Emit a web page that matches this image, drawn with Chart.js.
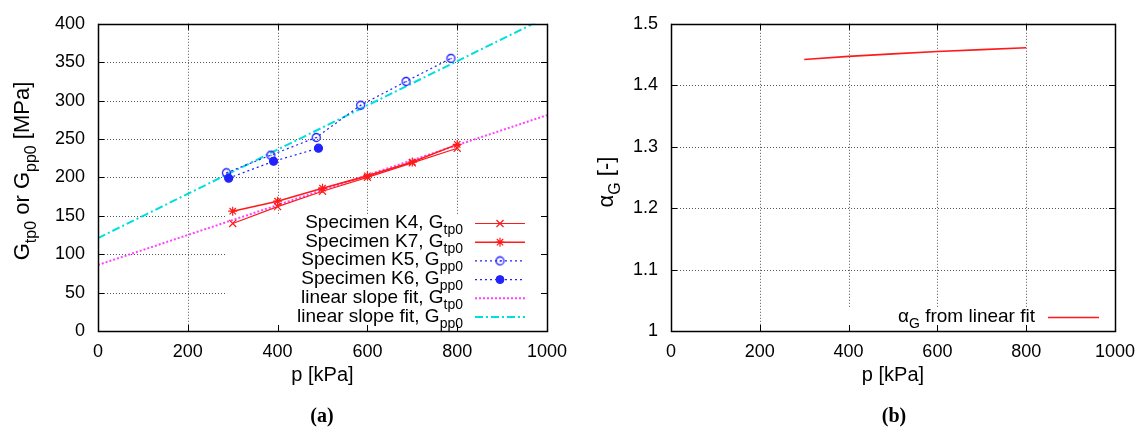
<!DOCTYPE html>
<html>
<head>
<meta charset="utf-8">
<script src="https://cdn.jsdelivr.net/npm/chart.js@4.4.1/dist/chart.umd.min.js"></script>
<style>
  body { margin: 0; width: 1145px; height: 433px; position: relative; background: #fff; overflow: hidden; }
  .pane { position: absolute; top: 0; }
  .cap { position: absolute; top: 404px; font: bold 20px 'Liberation Serif', serif; line-height: 22px; transform: translateX(-50%); }
</style>
</head>
<body>
<div class="pane" style="left:0"><canvas id="chartG" width="580" height="433"></canvas></div>
<div class="pane" style="left:580px"><canvas id="chartAlpha" width="565" height="433"></canvas></div>
<div class="cap" style="left:322px">(a)</div>
<div class="cap" style="left:894px">(b)</div>
<script>
// ---- data ----
const pressure = [300, 400, 500, 600, 700, 800];
const gtpK4 = [140, 162, 182, 200, 219, 238];
const gtpK7 = [156, 169, 186, 202, 220, 243];
const pK5 = [286, 385, 486, 585, 686, 786];
const gppK5 = [206, 229, 252, 294, 325, 355];
const pK6 = [291, 391, 491];
const gppK6 = [199, 221, 238];
const pFit = [0, 1000];
const gtpFit = [86, 281];
const gppFit = [121, 409];
const pAlpha = [300, 400, 500, 600, 700, 800];
const alphaFit = [1.442, 1.447, 1.451, 1.455, 1.458, 1.461];

const pTicks = [0, 200, 400, 600, 800, 1000];
const gTicks = [0, 50, 100, 150, 200, 250, 300, 350, 400];
const alphaTicks = [1, 1.1, 1.2, 1.3, 1.4, 1.5];

// label pieces: even index = normal text, odd index = subscript
const legendG = [
  ['Specimen K4, G', 'tp0'],
  ['Specimen K7, G', 'tp0'],
  ['Specimen K5, G', 'pp0'],
  ['Specimen K6, G', 'pp0'],
  ['linear slope fit, G', 'tp0'],
  ['linear slope fit, G', 'pp0']
];
const legendAlpha = [['\u03b1', 'G', ' from linear fit']];
const titleG = ['G', 'tp0', ' or G', 'pp0', ' [MPa]'];
const titleAlpha = ['\u03b1', 'G', ' [-]'];
const titleP = ['p [kPa]'];

const RED = '#ff1a1a', BLUE = '#2222ff', MAGENTA = '#ff44ff', CYAN = '#00dede';
const FONT = "'Liberation Sans', Arial, sans-serif";

Chart.defaults.font.family = FONT;
Chart.defaults.font.size = 18;
Chart.defaults.color = '#000';

// open circle with a dot in the middle
function ringDot(color) {
  const c = document.createElement('canvas');
  c.width = c.height = 11;
  const g = c.getContext('2d');
  g.strokeStyle = color; g.lineWidth = 1.3;
  g.beginPath(); g.arc(5.5, 5.5, 4, 0, 2 * Math.PI); g.stroke();
  g.fillStyle = color; g.fillRect(5, 5, 1.3, 1.3);
  return c;
}
const RING = ringDot(BLUE);

function series(label, xs, ys, style) {
  return Object.assign({
    label,
    data: xs.map((x, i) => ({ x, y: ys[i] })),
    fill: false, tension: 0, pointRadius: 0
  }, style);
}

// ---- text with subscripts ----
function richWidth(ctx, parts, size, subSize) {
  let w = 0;
  parts.forEach((t, i) => {
    ctx.font = (i % 2 ? subSize : size) + 'px ' + FONT;
    w += ctx.measureText(t).width;
  });
  return w;
}
function drawRich(ctx, parts, x, y, align, size, subSize, drop) {
  const w = richWidth(ctx, parts, size, subSize);
  let cx = align === 'right' ? x - w : align === 'center' ? x - w / 2 : x;
  ctx.textAlign = 'left';
  ctx.textBaseline = 'alphabetic';
  ctx.fillStyle = '#000';
  parts.forEach((t, i) => {
    const sub = i % 2 === 1;
    ctx.font = (sub ? subSize : size) + 'px ' + FONT;
    ctx.fillText(t, cx, sub ? y + drop : y);
    cx += ctx.measureText(t).width;
  });
}

function drawMark(ctx, ds, x, y) {
  const r = ds.pointRadius;
  const st = ds.pointStyle;
  if (!r) return;
  ctx.strokeStyle = ds.pointBorderColor || ds.borderColor;
  ctx.fillStyle = ds.pointBackgroundColor || ds.borderColor;
  ctx.lineWidth = ds.pointBorderWidth || 1;
  ctx.setLineDash([]);
  ctx.beginPath();
  if (st instanceof HTMLCanvasElement) {
    ctx.drawImage(st, x - st.width / 2, y - st.height / 2);
    return;
  }
  const d = r * Math.SQRT1_2;
  if (st === 'crossRot' || st === 'star') {
    ctx.moveTo(x - d, y - d); ctx.lineTo(x + d, y + d);
    ctx.moveTo(x - d, y + d); ctx.lineTo(x + d, y - d);
  }
  if (st === 'star') {
    ctx.moveTo(x - r, y); ctx.lineTo(x + r, y);
    ctx.moveTo(x, y - r); ctx.lineTo(x, y + r);
  }
  if (st === 'circle') {
    ctx.arc(x, y, r, 0, 2 * Math.PI);
    ctx.fill();
  }
  ctx.stroke();
}

// gnuplot-like frame: dotted grid, mirrored inner ticks, opaque key
function gnuFrame(o) {
  return {
    id: 'gnuFrame',
    beforeDatasetsDraw(chart) {
      const { ctx, chartArea: a, scales: { x, y } } = chart;
      ctx.save();
      ctx.strokeStyle = '#555';
      ctx.lineWidth = 1;
      ctx.setLineDash([1, 2]);
      ctx.beginPath();
      x.ticks.forEach(t => {
        const px = Math.round(x.getPixelForValue(t.value)) + 0.5;
        if (px > a.left + 2 && px < a.right - 2) { ctx.moveTo(px, a.top); ctx.lineTo(px, a.bottom); }
      });
      y.ticks.forEach(t => {
        const py = Math.round(y.getPixelForValue(t.value)) + 0.5;
        if (py > a.top + 2 && py < a.bottom - 2) { ctx.moveTo(a.left, py); ctx.lineTo(a.right, py); }
      });
      ctx.stroke();
      ctx.fillStyle = '#fff';
      ctx.fillRect(o.key.left, o.key.top, a.right - o.key.left, a.bottom - o.key.top);
      ctx.restore();
    },
    afterDatasetsDraw(chart) {
      const { ctx, chartArea: a, scales: { x, y } } = chart;
      ctx.save();
      ctx.strokeStyle = '#000';
      ctx.lineWidth = 1;
      ctx.setLineDash([]);
      ctx.beginPath();
      const tl = 6;
      x.ticks.forEach(t => {
        const px = Math.round(x.getPixelForValue(t.value)) + 0.5;
        ctx.moveTo(px, a.bottom); ctx.lineTo(px, a.bottom - tl);
        ctx.moveTo(px, a.top); ctx.lineTo(px, a.top + tl);
      });
      y.ticks.forEach(t => {
        const py = Math.round(y.getPixelForValue(t.value)) + 0.5;
        ctx.moveTo(a.left, py); ctx.lineTo(a.left + tl, py);
        ctx.moveTo(a.right, py); ctx.lineTo(a.right - tl, py);
      });
      ctx.stroke();
      ctx.lineWidth = 1.5;
      ctx.strokeRect(Math.round(a.left) + 0.5, Math.round(a.top) + 0.5,
        Math.round(a.right - a.left), Math.round(a.bottom - a.top));

      // key entries
      o.legend.forEach((parts, i) => {
        const ds = chart.data.datasets[i];
        const ry = o.key.rowY + i * o.key.step;
        drawRich(ctx, parts, o.key.textRight, ry + 5, 'right', 19, 14, 6);
        ctx.strokeStyle = ds.borderColor;
        ctx.lineWidth = ds.borderWidth;
        ctx.setLineDash(ds.borderDash || []);
        ctx.beginPath();
        ctx.moveTo(o.key.lineFrom, ry + 0.5); ctx.lineTo(o.key.lineTo, ry + 0.5);
        ctx.stroke();
        drawMark(ctx, ds, (o.key.lineFrom + o.key.lineTo) / 2, ry + 0.5);
      });

      // axis titles
      drawRich(ctx, titleP, (a.left + a.right) / 2, 381, 'center', 20, 15, 6);
      ctx.translate(o.yTitle.x, o.yTitle.y);
      ctx.rotate(-Math.PI / 2);
      drawRich(ctx, o.yTitle.parts, 0, 0, 'center', 22, 16, 7);
      ctx.restore();
    }
  };
}

function axes(xTicks, yTicks, yWidth) {
  const common = {
    type: 'linear',
    grid: { display: false, drawTicks: false },
    border: { display: false }
  };
  return {
    x: Object.assign({}, common, {
      min: xTicks[0], max: xTicks[xTicks.length - 1],
      afterBuildTicks: s => { s.ticks = xTicks.map(v => ({ value: v })); },
      afterFit: s => { s.height = 102; },
      ticks: { padding: 10, autoSkip: false, maxRotation: 0, callback: v => String(v) }
    }),
    y: Object.assign({}, common, {
      min: yTicks[0], max: yTicks[yTicks.length - 1],
      afterBuildTicks: s => { s.ticks = yTicks.map(v => ({ value: v })); },
      afterFit: s => { s.width = yWidth; },
      ticks: { padding: 13, autoSkip: false, callback: v => String(+v.toFixed(1)) }
    })
  };
}

// ---- (a) shear moduli ----
new Chart(document.getElementById('chartG'), {
  type: 'line',
  data: {
    datasets: [
      series('Specimen K4', pressure, gtpK4, { borderColor: RED, borderWidth: 1.2, pointStyle: 'crossRot', pointRadius: 5, pointBorderColor: RED, pointBorderWidth: 1.2 }),
      series('Specimen K7', pressure, gtpK7, { borderColor: RED, borderWidth: 1.6, pointStyle: 'star', pointRadius: 4.5, pointBorderColor: RED, pointBorderWidth: 1.2 }),
      series('Specimen K5', pK5, gppK5, { borderColor: BLUE, borderWidth: 1.2, borderDash: [2, 3], pointStyle: RING, pointRadius: 4 }),
      series('Specimen K6', pK6, gppK6, { borderColor: BLUE, borderWidth: 1.2, borderDash: [2, 3], pointStyle: 'circle', pointRadius: 4, pointBackgroundColor: BLUE, pointBorderColor: BLUE }),
      series('fit tp0', pFit, gtpFit, { borderColor: MAGENTA, borderWidth: 2, borderDash: [2, 2] }),
      series('fit pp0', pFit, gppFit, { borderColor: CYAN, borderWidth: 2, borderDash: [8, 3, 2, 3] })
    ]
  },
  options: {
    responsive: false,
    animation: false,
    layout: { padding: { top: 19, right: 33, left: 0, bottom: 0 } },
    plugins: { legend: { display: false }, tooltip: { enabled: false } },
    scales: axes(pTicks, gTicks, 98)
  },
  plugins: [gnuFrame({
    legend: legendG,
    key: { left: 226, top: 215, rowY: 223, step: 18.7, textRight: 463, lineFrom: 475, lineTo: 525 },
    yTitle: { x: 29, y: 171, parts: titleG }
  })]
});

// ---- (b) anisotropy ratio ----
new Chart(document.getElementById('chartAlpha'), {
  type: 'line',
  data: {
    datasets: [
      series('alpha', pAlpha, alphaFit, { borderColor: RED, borderWidth: 1.6 })
    ]
  },
  options: {
    responsive: false,
    animation: false,
    layout: { padding: { top: 19, right: 29, left: 0, bottom: 0 } },
    plugins: { legend: { display: false }, tooltip: { enabled: false } },
    scales: axes(pTicks, alphaTicks, 91)
  },
  plugins: [gnuFrame({
    legend: legendAlpha,
    key: { left: 262, top: 307, rowY: 317, step: 0, textRight: 455, lineFrom: 468, lineTo: 519 },
    yTitle: { x: 33, y: 182, parts: titleAlpha }
  })]
});
</script>
</body>
</html>
